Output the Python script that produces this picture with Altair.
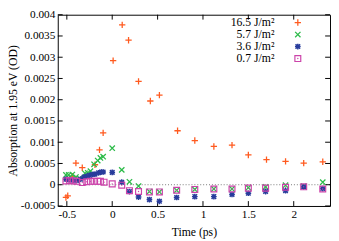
import altair as alt
import pandas as pd

# ---- data ----
series_names = ["16.5 J/m²", "5.7 J/m²", "3.6 J/m²", "0.7 J/m²"]

orange_t = [-0.51, -0.49, -0.44, -0.40, -0.33, -0.19, -0.14, -0.10, 0.01, 0.11, 0.18,
            0.29, 0.42, 0.52, 0.72, 0.91, 1.12, 1.32, 1.50, 1.70, 1.91, 2.11, 2.32]
orange_v = [-0.0003, -0.00026, 0.0002, 0.00051, 0.0004, 0.00047, 0.00082, 0.00122, 0.00292,
            0.00376, 0.0034, 0.00243, 0.00197, 0.00211, 0.00127, 0.00104, 0.0009, 0.00093,
            0.0007, 0.00059, 0.00055, 0.00051, 0.00054]

green_t = [-0.51, -0.48, -0.44, -0.40, -0.36, -0.30, -0.27, -0.24, -0.20, -0.16, -0.13, -0.10,
           0.0, 0.105, 0.19, 0.29, 0.41, 0.52, 0.71, 0.91, 1.12, 1.32, 1.50, 1.69, 1.91, 2.11, 2.32]
green_v = [0.00023, 0.00023, 0.00024, 0.00018, 0.00015, 0.00027, 0.00028, 0.00032, 0.00048,
           0.00057, 0.00063, 0.00066,
           0.00086, 0.00035, 0.00007, -0.00003, -0.00016, -0.00017, -0.00013, -0.00011,
           -0.0001, -0.0001, -0.00007, -0.00005, -0.00001, -0.00003, 0.00006]

blue_t = [-0.51, -0.47, -0.43, -0.39, -0.35, -0.31, -0.28, -0.25, -0.22, -0.19, -0.15, -0.12, -0.10,
          0.0, 0.105, 0.19, 0.29, 0.41, 0.52, 0.71, 0.91, 1.12, 1.32, 1.50, 1.69, 1.91, 2.11, 2.32]
blue_v = [0.00013, 0.00012, 0.00011, 0.0001, 0.00013, 0.00018, 0.0002, 0.00022, 0.00024, 0.00025,
          0.00028, 0.0003, 0.0003,
          0.00029, 0.00006, -0.00016, -0.00029, -0.00035, -0.00039, -0.0003, -0.00028, -0.00028,
          -0.00023, -0.0002, -0.00016, -0.00014, -0.00005, -0.00009]

pink_t = [-0.51, -0.47, -0.43, -0.39, -0.33, -0.28, -0.24, -0.20, -0.16, -0.13, -0.09,
          0.0, 0.105, 0.19, 0.29, 0.41, 0.52, 0.71, 0.91, 1.12, 1.32, 1.50, 1.69, 1.91, 2.11, 2.32]
pink_v = [0.00009, 0.0001, 0.00009, 0.00008, 0.00005, 0.00007, 0.00008, 0.00008, 0.00008, 0.00008,
          0.00006,
          0.00002, -0.00001, -0.00014, -0.00016, -0.00017, -0.00017, -0.00013, -0.00011, -0.0001,
          -0.0001, -0.00008, -0.00008, -0.00006, -0.00005, -0.0001]

x_ticks = [-0.5, 0, 0.5, 1, 1.5, 2]
x_tick_labels = ["-0.5", "0", "0.5", "1", "1.5", "2"]
y_ticks = [-0.0005, 0, 0.0005, 0.001, 0.0015, 0.002, 0.0025, 0.003, 0.0035, 0.004]
y_tick_labels = ["-0.0005", "0", "0.0005", "0.001", "0.0015", "0.002", "0.0025", "0.003",
                 "0.0035", "0.004"]
x_domain = [-0.6, 2.4]
y_domain = [-0.0005, 0.004]

colors = ["#ff5a1f", "#2dbb4a", "#283c9c", "#cc44aa"]

# ---- styling ----
W, H = 279, 196
FONT = "Liberation Serif"
PLUS = "M-1,0L1,0M0,-1L0,1"
XMARK = "M-1,-1L1,1M-1,1L1,-1"
STAR = "M-1,0L1,0M0,-1L0,1M-0.8,-0.8L0.8,0.8M-0.8,0.8L0.8,-0.8"
SQUARE = "M-1,-1L1,-1L1,1L-1,1Z"


def label_expr(vals, labels):
    expr = "''"
    for v, l in zip(vals, labels):
        expr = f"abs(datum.value - ({v!r})) < 1e-9 ? '{l}' : ({expr})"
    return expr


xs = alt.Scale(domain=x_domain, nice=False, zero=False)
ys = alt.Scale(domain=y_domain, nice=False, zero=False)
X_AXIS = alt.Axis(values=x_ticks, labelExpr=label_expr(x_ticks, x_tick_labels),
                  labelOverlap=False, labelFlush=False, titleY=26,
                  titleBaseline="middle", titleFontWeight="normal")
Y_AXIS = alt.Axis(values=y_ticks, labelExpr=label_expr(y_ticks, y_tick_labels),
                  labelOverlap=False, labelFlush=False, titleX=-46, titleY=H / 2,
                  titleAngle=-90, titleAlign="center", titleBaseline="middle",
                  titleFontWeight="normal")
X_TITLE = "Time (ps)"
Y_TITLE = "Absorption at 1.95 eV (OD)"


def X():
    return alt.X("t:Q", scale=xs, axis=X_AXIS, title=X_TITLE)


def Y():
    return alt.Y("v:Q", scale=ys, axis=Y_AXIS, title=Y_TITLE)


def df(t, v):
    return pd.DataFrame({"t": t, "v": v})


def pts(t, v, shape, color, size, sw):
    return alt.Chart(df(t, v)).mark_point(
        shape=shape, color=color, size=size, strokeWidth=sw, filled=False, opacity=1
    ).encode(x=X(), y=Y())


zero_line = alt.Chart(pd.DataFrame({"v": [0]})).mark_rule(
    color="#555555", strokeDash=[1, 2], strokeWidth=0.8).encode(y=Y())

xt = pd.DataFrame({"t": x_ticks})
yt = pd.DataFrame({"v": y_ticks})
tick_style = dict(color="black", strokeWidth=1)
xt_bottom = alt.Chart(xt).mark_rule(**tick_style).encode(
    x=X(), y=alt.value(H), y2=alt.value(H - 5))
xt_top = alt.Chart(xt).mark_rule(**tick_style).encode(
    x=X(), y=alt.value(0), y2=alt.value(5))
yt_left = alt.Chart(yt).mark_rule(**tick_style).encode(
    y=Y(), x=alt.value(0), x2=alt.value(5))
yt_right = alt.Chart(yt).mark_rule(**tick_style).encode(
    y=Y(), x=alt.value(W), x2=alt.value(W - 5))

layers = [zero_line, xt_bottom, xt_top, yt_left, yt_right]
layers.append(pts(orange_t, orange_v, PLUS, colors[0], 42, 1.3))
layers.append(pts(green_t, green_v, XMARK, colors[1], 30, 1.3))
layers.append(pts(blue_t, blue_v, STAR, colors[2], 34, 1.5))
layers.append(pts(pink_t, pink_v, SQUARE, colors[3], 36, 1.2))
layers.append(alt.Chart(df(pink_t, pink_v)).mark_point(
    shape="circle", filled=True, color=colors[3], size=2, opacity=1).encode(x=X(), y=Y()))

# ---- manual legend (label on the left, symbol on the right) ----
shapes = [PLUS, XMARK, STAR, SQUARE]
sizes = [42, 30, 34, 36]
widths = [1.3, 1.3, 1.5, 1.2]
legend_df = pd.DataFrame({"name": series_names})
for i, name in enumerate(series_names):
    yy = 8 + i * 12.3
    row = legend_df.iloc[[i]]
    layers.append(alt.Chart(row).mark_text(align="right", baseline="middle", font=FONT,
                                           fontSize=12, color="black").encode(
        text="name:N", x=alt.value(222), y=alt.value(yy)))
    layers.append(alt.Chart(row).mark_point(shape=shapes[i], color=colors[i], size=sizes[i],
                                            strokeWidth=widths[i], filled=False, opacity=1).encode(
        x=alt.value(246), y=alt.value(yy)))
    if i == 3:
        layers.append(alt.Chart(row).mark_point(shape="circle", filled=True, color=colors[i],
                                                size=2, opacity=1).encode(
            x=alt.value(246), y=alt.value(yy)))

chart = alt.layer(*layers).properties(
    width=W, height=H,
    autosize=alt.AutoSizeParams(type="none"),
    padding={"left": 51, "top": 4, "right": 1, "bottom": 33},
).configure_view(stroke="black", strokeWidth=1).configure_axis(
    domain=False, ticks=False, grid=False, labelFont=FONT, titleFont=FONT,
    labelFontSize=11.5, titleFontSize=12, labelColor="black", titleColor="black",
    titleFontWeight="normal", labelPadding=3,
)

chart.save("out.html", embed_options={"renderer": "svg", "actions": False})
